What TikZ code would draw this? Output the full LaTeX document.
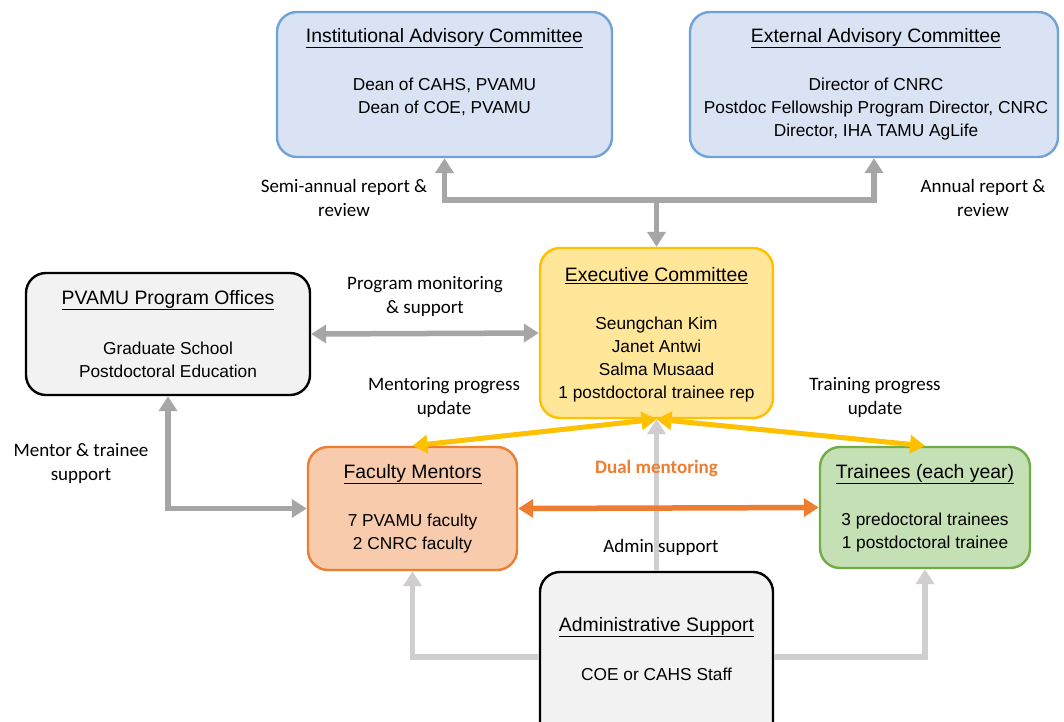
\documentclass[tikz,border=0pt]{standalone}
\usepackage{fontspec}
\setmainfont{Liberation Sans}
\newfontfamily\boxfont{Liberation Sans}
\newfontfamily\labfont{Carlito}
\usetikzlibrary{arrows.meta}
\definecolor{bluefill}{HTML}{DAE3F3}
\definecolor{blueline}{HTML}{6FA3D8}
\definecolor{yelfill}{HTML}{FFE699}
\definecolor{yelline}{HTML}{FFC000}
\definecolor{orfill}{HTML}{F8CBAD}
\definecolor{orline}{HTML}{ED7D31}
\definecolor{grfill}{HTML}{C5E0B4}
\definecolor{grline}{HTML}{70AD47}
\definecolor{gyfill}{HTML}{F2F2F2}
\definecolor{darkgy}{HTML}{A6A6A6}
\definecolor{lightgy}{HTML}{D0CECE}
\begin{document}
\begin{tikzpicture}[x=1pt,y=-1pt,
  box/.style={rounded corners=20pt, line width=2.4pt, inner sep=0pt},
  tx/.style={font=\boxfont\fontsize{17.3}{23}\selectfont, align=center, inner sep=0pt},
  ttl/.style={font=\boxfont\fontsize{19.4}{23}\selectfont, align=center, inner sep=0pt},
  lab/.style={font=\labfont\fontsize{19}{24}\selectfont, align=center, inner sep=0pt},
  garrow/.style={draw=darkgy, line width=5.5pt, arrows={-Triangle[width=18pt,length=15pt]}},
  garrow2/.style={draw=darkgy, line width=5.5pt, arrows={Triangle[width=18pt,length=15pt]-Triangle[width=18pt,length=15pt]}},
  larrow/.style={draw=lightgy, line width=5.5pt, arrows={-Triangle[width=18pt,length=15pt]}},
  yarrow/.style={draw=yelline, line width=5pt, arrows={Triangle[width=18pt,length=15pt]-Triangle[width=18pt,length=15pt]}},
  oarrow/.style={draw=orline, line width=5.5pt, arrows={Triangle[width=18pt,length=15pt]-Triangle[width=18pt,length=15pt]}}
]
\clip (0,0) rectangle (1064,721);
\fill[white] (0,0) rectangle (1064,721);

% boxes
\node[box, draw=blueline, fill=bluefill, minimum width=335pt, minimum height=145pt] (inst) at (444.5,84.5) {};
\node[box, draw=blueline, fill=bluefill, minimum width=368pt, minimum height=145pt] (ext) at (874,84.5) {};
\node[box, draw=yelline, fill=yelfill, minimum width=233pt, minimum height=170pt] (exec) at (656.5,333) {};
\node[box, draw=black, fill=gyfill, minimum width=284pt, minimum height=122pt] (pv) at (168,334) {};
\node[box, draw=orline, fill=orfill, minimum width=209pt, minimum height=123pt] (fac) at (412.5,508.5) {};
\node[box, draw=grline, fill=grfill, minimum width=210pt, minimum height=121pt] (tr) at (925,507.5) {};
\node[box, draw=black, fill=gyfill, minimum width=233pt, minimum height=170pt] (adm) at (656.5,657) {};

% texts
\node[ttl] (instT) at (444.5,38) {\underline{Institutional Advisory Committee}};
\node[tx] (instB) at (444.5,97) {Dean of CAHS, PVAMU\\Dean of COE, PVAMU};
\node[ttl] (extT) at (876,38) {\underline{External Advisory Committee}};
\node[tx] (extB) at (876,109) {Director of CNRC\\Postdoc Fellowship Program Director, CNRC\\Director, IHA TAMU AgLife};
\node[ttl] (exT) at (656.5,276) {\underline{Executive Committee}};
\node[tx] (exB) at (656.5,359.5) {Seungchan Kim\\Janet Antwi\\Salma Musaad\\1 postdoctoral trainee rep};
\node[ttl] (pvT) at (168,300) {\underline{PVAMU Program Offices}};
\node[tx] (pvB) at (168,359.5) {Graduate School\\Postdoctoral Education};
\node[ttl] (facT) at (412.5,474) {\underline{Faculty Mentors}};
\node[tx] (facB) at (412.5,533.5) {7 PVAMU faculty\\2 CNRC faculty};
\node[ttl] (trT) at (925,474) {\underline{Trainees (each year)}};
\node[tx] (trB) at (925,532.5) {3 predoctoral trainees\\1 postdoctoral trainee};
\node[ttl] (admT) at (656.5,627) {\underline{Administrative Support}};
\node[tx] (admB) at (656.5,674) {COE or CAHS Staff};

% connectors
\coordinate (j) at (656.5,200);
\draw[garrow2, line join=miter] (inst.south) |- (j) -| (ext.south);
\draw[garrow] (j) -- (exec.north);
\draw[garrow2] (pv.east) -- (exec.west);
\draw[garrow2, line join=miter] (pv.south) |- (fac.west);
\draw[larrow] (adm.north) -- (exec.south);
\draw[larrow, line join=miter] (adm.west) -| (fac.south);
\draw[larrow, line join=miter] (adm.east) -| (tr.south);
\draw[yarrow] (exec.south) -- (fac.north);
\draw[yarrow] (exec.south) -- (tr.north);
\draw[oarrow] (fac.east) -- (tr.west);

% labels
\node[lab] (l1) at (344,198) {Semi-annual report \&\\review};
\node[lab] (l2) at (983,198) {Annual report \&\\review};
\node[lab] (l3) at (425,296) {Program monitoring\\\& support};
\node[lab] (l4) at (444,397) {Mentoring progress\\update};
\node[lab] (l5) at (875,397) {Training progress\\update};
\node[lab] (l6) at (81,463) {Mentor \& trainee\\support};
\node[lab, font=\labfont\bfseries\fontsize{19}{24}\selectfont, text=orline] (l7) at (656.5,468) {Dual mentoring};
\node[lab] (l8) at (661,547) {Admin support};
\end{tikzpicture}
\end{document}
